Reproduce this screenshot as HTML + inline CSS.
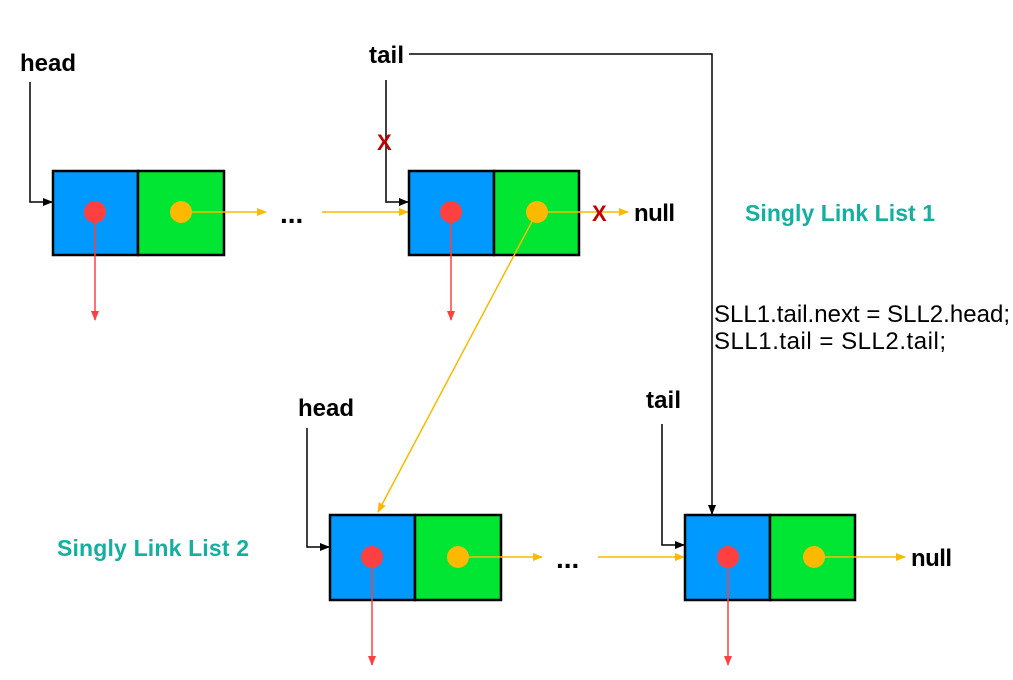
<!DOCTYPE html>
<html><head><meta charset="utf-8"><style>
html,body{margin:0;padding:0;background:#fff;}
svg{display:block;font-family:"Liberation Sans",Arial,sans-serif;}
.lbl{font-weight:bold;font-size:24px;fill:#000;}
.title{font-weight:bold;font-size:23px;fill:#13b0a0;}
.code{font-size:24px;fill:#000;}
.x{font-weight:bold;font-size:22px;fill:#c00000;}
.dots{font-weight:bold;font-size:28px;fill:#000;}
</style></head><body>
<svg width="1013" height="680" viewBox="0 0 1013 680">
<defs>
<marker id="ab" markerWidth="10" markerHeight="10" refX="9" refY="5" orient="auto" markerUnits="userSpaceOnUse"><path d="M0,1 L10,5 L0,9 Z" fill="#000"/></marker>
<marker id="ay" markerWidth="10" markerHeight="10" refX="9" refY="5" orient="auto" markerUnits="userSpaceOnUse"><path d="M0,1 L10,5 L0,9 Z" fill="#fdb900"/></marker>
<marker id="ar" markerWidth="10" markerHeight="10" refX="9" refY="5" orient="auto" markerUnits="userSpaceOnUse"><path d="M0,1 L10,5 L0,9 Z" fill="#ff4040"/></marker>
</defs>

<g>
<rect x="53" y="171" width="85" height="84" fill="#0099ff" stroke="#000" stroke-width="2.5"/>
<rect x="138" y="171" width="86" height="84" fill="#00e632" stroke="#000" stroke-width="2.5"/>
<line x1="95" y1="212" x2="95" y2="320" stroke="#ff4040" stroke-width="1.5" marker-end="url(#ar)"/>
<line x1="181" y1="212" x2="266" y2="212" stroke="#fdb900" stroke-width="1.5" marker-end="url(#ay)"/>
<circle cx="95" cy="212" r="11" fill="#ff4040"/>
<circle cx="181" cy="212" r="11" fill="#fdb900"/>
</g>
<text class="lbl" x="20" y="71" textLength="56">head</text>
<polyline points="30,82 30,202 52,202" fill="none" stroke="#000" stroke-width="1.5" marker-end="url(#ab)"/>
<text class="dots" x="280" y="223">...</text>
<line x1="322" y1="212" x2="408" y2="212" stroke="#fdb900" stroke-width="1.5" marker-end="url(#ay)"/>

<g>
<rect x="409" y="171" width="85" height="84" fill="#0099ff" stroke="#000" stroke-width="2.5"/>
<rect x="494" y="171" width="85" height="84" fill="#00e632" stroke="#000" stroke-width="2.5"/>
<line x1="451" y1="212" x2="451" y2="320" stroke="#ff4040" stroke-width="1.5" marker-end="url(#ar)"/>
<line x1="537" y1="212" x2="628" y2="212" stroke="#fdb900" stroke-width="1.5" marker-end="url(#ay)"/>
<line x1="537" y1="212" x2="378" y2="512" stroke="#fdb900" stroke-width="1.5" marker-end="url(#ay)"/>
<circle cx="451" cy="212" r="11" fill="#ff4040"/>
<circle cx="537" cy="212" r="11" fill="#fdb900"/>
</g>
<text class="x" x="592" y="221">X</text>
<text class="lbl" x="634" y="221" textLength="41">null</text>
<text class="lbl" x="369" y="63" textLength="35">tail</text>
<polyline points="386,80 386,202 408,202" fill="none" stroke="#000" stroke-width="1.5" marker-end="url(#ab)"/>
<text class="x" x="377" y="150">X</text>
<polyline points="409,54 712,54 712,514" fill="none" stroke="#000" stroke-width="1.5" marker-end="url(#ab)"/>

<text class="title" x="745" y="221" textLength="190">Singly Link List 1</text>
<text class="code" x="714" y="322" textLength="296">SLL1.tail.next = SLL2.head;</text>
<text class="code" x="714" y="349" textLength="232">SLL1.tail = SLL2.tail;</text>

<g>
<rect x="330" y="515" width="85" height="85" fill="#0099ff" stroke="#000" stroke-width="2.5"/>
<rect x="415" y="515" width="86" height="85" fill="#00e632" stroke="#000" stroke-width="2.5"/>
<line x1="372" y1="557" x2="372" y2="665" stroke="#ff4040" stroke-width="1.5" marker-end="url(#ar)"/>
<line x1="458" y1="557" x2="542" y2="557" stroke="#fdb900" stroke-width="1.5" marker-end="url(#ay)"/>
<circle cx="372" cy="557" r="11" fill="#ff4040"/>
<circle cx="458" cy="557" r="11" fill="#fdb900"/>
</g>
<text class="lbl" x="298" y="416" textLength="56">head</text>
<polyline points="307,428 307,547 329,547" fill="none" stroke="#000" stroke-width="1.5" marker-end="url(#ab)"/>
<text class="dots" x="556" y="568">...</text>
<line x1="598" y1="557" x2="684" y2="557" stroke="#fdb900" stroke-width="1.5" marker-end="url(#ay)"/>
<text class="title" x="57" y="556" textLength="192">Singly Link List 2</text>

<g>
<rect x="685" y="515" width="85" height="85" fill="#0099ff" stroke="#000" stroke-width="2.5"/>
<rect x="770" y="515" width="85" height="85" fill="#00e632" stroke="#000" stroke-width="2.5"/>
<line x1="728" y1="557" x2="728" y2="665" stroke="#ff4040" stroke-width="1.5" marker-end="url(#ar)"/>
<line x1="814" y1="557" x2="905" y2="557" stroke="#fdb900" stroke-width="1.5" marker-end="url(#ay)"/>
<circle cx="728" cy="557" r="11" fill="#ff4040"/>
<circle cx="814" cy="557" r="11" fill="#fdb900"/>
</g>
<text class="lbl" x="911" y="566" textLength="41">null</text>
<text class="lbl" x="646" y="408" textLength="35">tail</text>
<polyline points="662,424 662,545 684,545" fill="none" stroke="#000" stroke-width="1.5" marker-end="url(#ab)"/>
</svg>
</body></html>
